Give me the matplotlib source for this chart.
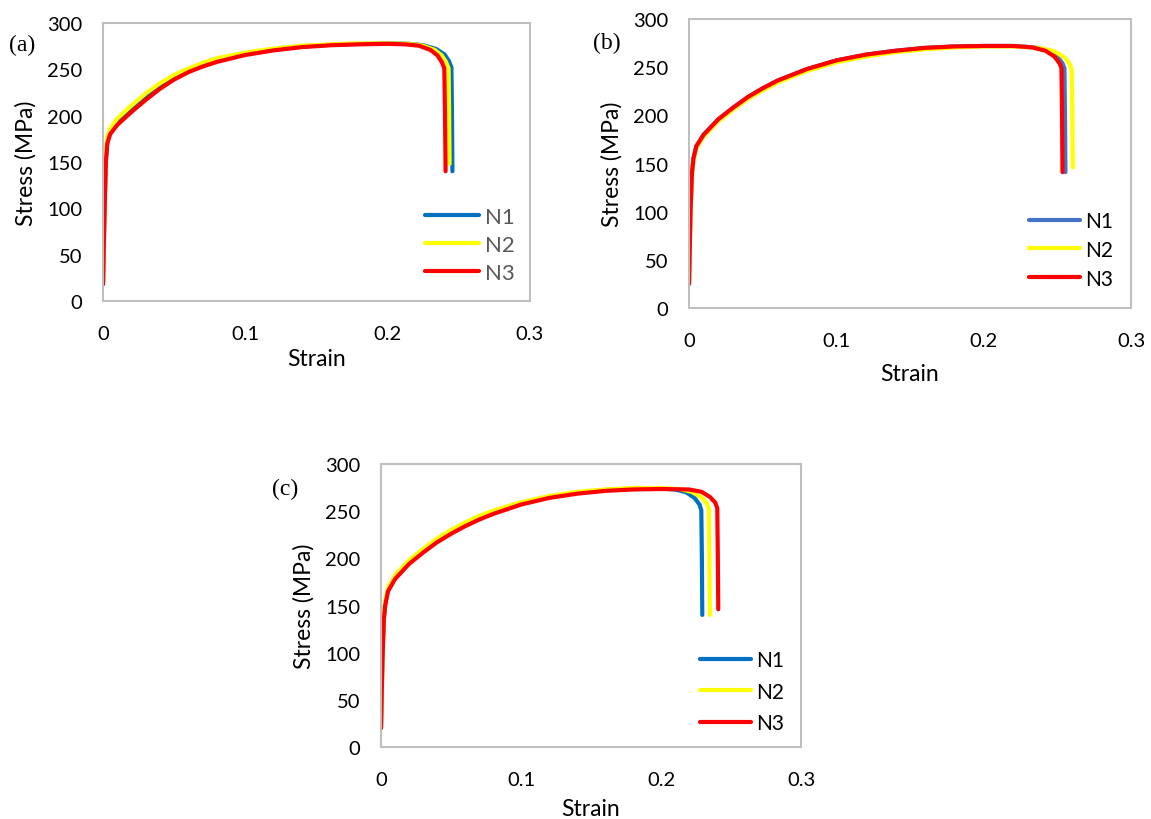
import matplotlib
matplotlib.use("Agg")
import matplotlib.pyplot as plt

plt.rcParams['font.family'] = ['Lato', 'DejaVu Sans']

# ---------------- data ----------------
# Panel (a)
a_n1_strain = [0, 0.001, 0.002, 0.003, 0.005, 0.01, 0.02, 0.03, 0.04, 0.05, 0.06, 0.07, 0.08, 0.10, 0.12, 0.14, 0.16, 0.18, 0.20, 0.215, 0.225, 0.234, 0.240, 0.243, 0.2448, 0.2452, 0.2455]
a_n1_stress = [18, 95, 152, 171, 182, 192, 206, 220, 231, 241, 249, 255, 260, 267, 271.5, 274.5, 276.5, 277.5, 278, 277.5, 276, 272, 266, 259, 252, 200, 140]
a_n2_strain = [0, 0.001, 0.002, 0.003, 0.005, 0.01, 0.02, 0.03, 0.04, 0.05, 0.06, 0.07, 0.08, 0.10, 0.12, 0.14, 0.16, 0.18, 0.20, 0.215, 0.225, 0.233, 0.238, 0.241, 0.2428, 0.2432, 0.2435]
a_n2_stress = [18, 100, 160, 177, 186, 197, 211, 224, 235, 244, 251, 257, 262, 268, 272.5, 275.5, 277, 278, 278, 277.5, 275.5, 271, 265, 258, 251, 200, 148]
a_n3_strain = [0, 0.001, 0.002, 0.003, 0.005, 0.01, 0.02, 0.03, 0.04, 0.05, 0.06, 0.07, 0.08, 0.10, 0.12, 0.14, 0.16, 0.18, 0.20, 0.212, 0.222, 0.230, 0.235, 0.238, 0.2398, 0.2403, 0.2407]
a_n3_stress = [18, 90, 150, 170, 180, 190, 204, 217, 229, 239, 247, 253, 258, 265.5, 270.5, 274, 276, 277, 277.5, 277, 275.5, 271, 265, 258, 251, 200, 140]

# Panel (b)
b_n1_strain = [0, 0.001, 0.002, 0.003, 0.005, 0.01, 0.02, 0.03, 0.04, 0.05, 0.06, 0.07, 0.08, 0.10, 0.12, 0.14, 0.16, 0.18, 0.20, 0.22, 0.235, 0.244, 0.250, 0.2535, 0.2548, 0.2552, 0.2555]
b_n1_stress = [25, 100, 140, 155, 168, 180, 196, 208, 219, 228, 236, 242, 248, 257, 263, 267, 270, 271.5, 272, 272, 270.5, 267, 261, 254, 249, 200, 141]
b_n2_strain = [0, 0.001, 0.002, 0.003, 0.005, 0.01, 0.02, 0.03, 0.04, 0.05, 0.06, 0.07, 0.08, 0.10, 0.12, 0.14, 0.16, 0.18, 0.20, 0.22, 0.238, 0.248, 0.255, 0.2585, 0.2598, 0.2602, 0.2605]
b_n2_stress = [25, 98, 138, 153, 166, 178, 194, 206, 217, 226, 234, 240, 246, 255, 261, 265.5, 268.5, 270.5, 271.5, 271.5, 270, 266.5, 260, 253, 247, 200, 146]
b_n3_strain = [0, 0.001, 0.002, 0.003, 0.005, 0.01, 0.02, 0.03, 0.04, 0.05, 0.06, 0.07, 0.08, 0.10, 0.12, 0.14, 0.16, 0.18, 0.20, 0.22, 0.233, 0.242, 0.248, 0.2515, 0.2528, 0.2532, 0.2535]
b_n3_stress = [25, 100, 140, 155, 168, 180, 196, 208, 219, 228, 236, 242, 248, 257, 263, 267, 270, 271.5, 272, 272, 270.5, 267, 261, 254, 249, 200, 141]

# Panel (c)
c_n1_strain = [0, 0.001, 0.002, 0.003, 0.005, 0.01, 0.02, 0.03, 0.04, 0.05, 0.06, 0.07, 0.08, 0.10, 0.12, 0.14, 0.16, 0.18, 0.20, 0.21, 0.218, 0.224, 0.2275, 0.2288, 0.2292, 0.2295]
c_n1_stress = [20, 92, 137, 152, 167, 180, 196, 208, 219, 228, 236, 243, 249, 258.5, 265, 269.5, 272.5, 274, 274, 273, 270, 264, 257, 251, 200, 140]
c_n2_strain = [0, 0.001, 0.002, 0.003, 0.005, 0.01, 0.02, 0.03, 0.04, 0.05, 0.06, 0.07, 0.08, 0.10, 0.12, 0.14, 0.16, 0.18, 0.20, 0.213, 0.222, 0.229, 0.2328, 0.2342, 0.2346, 0.2349]
c_n2_stress = [20, 95, 140, 155, 169, 182, 198, 210, 221, 230, 238, 245, 250.5, 259.5, 266, 270.5, 273, 274.5, 274.5, 273.5, 270.5, 264.5, 258, 252, 200, 140]
c_n3_strain = [0, 0.001, 0.002, 0.003, 0.005, 0.01, 0.02, 0.03, 0.04, 0.05, 0.06, 0.07, 0.08, 0.10, 0.12, 0.14, 0.16, 0.18, 0.20, 0.22, 0.229, 0.235, 0.2388, 0.2402, 0.2406, 0.2409]
c_n3_stress = [20, 90, 135, 150, 165, 178, 194, 206, 217, 226, 234, 241, 247, 257, 264, 268.5, 271.5, 273, 273.5, 273, 270.5, 265, 259, 253, 200, 146]

series_labels = ['N1', 'N2', 'N3']
x_ticks = [0, 0.1, 0.2, 0.3]
x_tick_labels = ['0', '0.1', '0.2', '0.3']
y_ticks = [0, 50, 100, 150, 200, 250, 300]
panel_labels = ['(a)', '(b)', '(c)']

# ---------------- figure ----------------
W, H = 1151, 820
fig = plt.figure(figsize=(W / 100, H / 100), dpi=100)
fig.patch.set_facecolor('white')


def px_axes(left, top, right, bottom):
    return fig.add_axes([left / W, 1 - bottom / H, (right - left) / W, (bottom - top) / H])


panels = [
    dict(box=(103, 24, 530, 302),
         data=[(a_n1_strain, a_n1_stress), (a_n2_strain, a_n2_stress), (a_n3_strain, a_n3_stress)],
         colors=['#0070C0', '#FFFF00', '#FF0000'],
         leg_text='#595959', leg_size=16, leg_anchor=(425, 208), leg_sp=0.36,
         ylab_x=37, xlab_y=349, letter=(22, 45)),
    dict(box=(689, 20, 1131, 309),
         data=[(b_n1_strain, b_n1_stress), (b_n2_strain, b_n2_stress), (b_n3_strain, b_n3_stress)],
         colors=['#4472C4', '#FFFF00', '#FF0000'],
         leg_text='black', leg_size=15, leg_anchor=(1029, 212), leg_sp=0.42,
         ylab_x=623, xlab_y=364, letter=(607, 43)),
    dict(box=(381, 465, 801, 748),
         data=[(c_n1_strain, c_n1_stress), (c_n2_strain, c_n2_stress), (c_n3_strain, c_n3_stress)],
         colors=['#0070C0', '#FFFF00', '#FF0000'],
         leg_text='black', leg_size=15, leg_anchor=(700, 651), leg_sp=0.56,
         ylab_x=315, xlab_y=799, letter=(285, 489)),
]

for i, p in enumerate(panels):
    l, t, r, b = p['box']
    ax = px_axes(l, t, r, b)
    for (xs, ys), col, lab in zip(p['data'], p['colors'], series_labels):
        ax.plot(xs, ys, color=col, lw=3.0, label=lab,
                solid_capstyle='round', solid_joinstyle='round')
    ax.set_xlim(0, 0.3)
    ax.set_ylim(0, 300)
    ax.set_xticks(x_ticks)
    ax.set_xticklabels(x_tick_labels)
    ax.set_yticks(y_ticks)
    ax.tick_params(axis='both', length=0, labelsize=14.5, colors='black')
    ax.tick_params(axis='x', pad=17)
    ax.tick_params(axis='y', pad=15)
    for s in ax.spines.values():
        s.set_color('#BFBFBF')
        s.set_linewidth(1.5)
    ax.set_ylabel('Stress (MPa)', fontsize=16.5)
    ax.set_xlabel('Strain', fontsize=16.5)
    ax.yaxis.set_label_coords((p['ylab_x'] - l) / (r - l), 0.5)
    ax.xaxis.set_label_coords(0.5, (b - p['xlab_y']) / (b - t))

    ax_x, ax_y = p['leg_anchor']
    leg = ax.legend(loc='upper left',
                    bbox_to_anchor=((ax_x - l) / (r - l), (b - ax_y) / (b - t)),
                    frameon=False, fontsize=p['leg_size'], handlelength=2.45,
                    handletextpad=0.25, borderpad=0, borderaxespad=0,
                    labelspacing=p['leg_sp'])
    for txt in leg.get_texts():
        txt.set_color(p['leg_text'])
    for ln in leg.get_lines():
        ln.set_linewidth(3.0)

    fig.text(p['letter'][0] / W, 1 - p['letter'][1] / H, panel_labels[i],
             family='Liberation Serif', fontsize=17, ha='center', va='center')

fig.savefig('out.png', dpi=100, facecolor='white')
